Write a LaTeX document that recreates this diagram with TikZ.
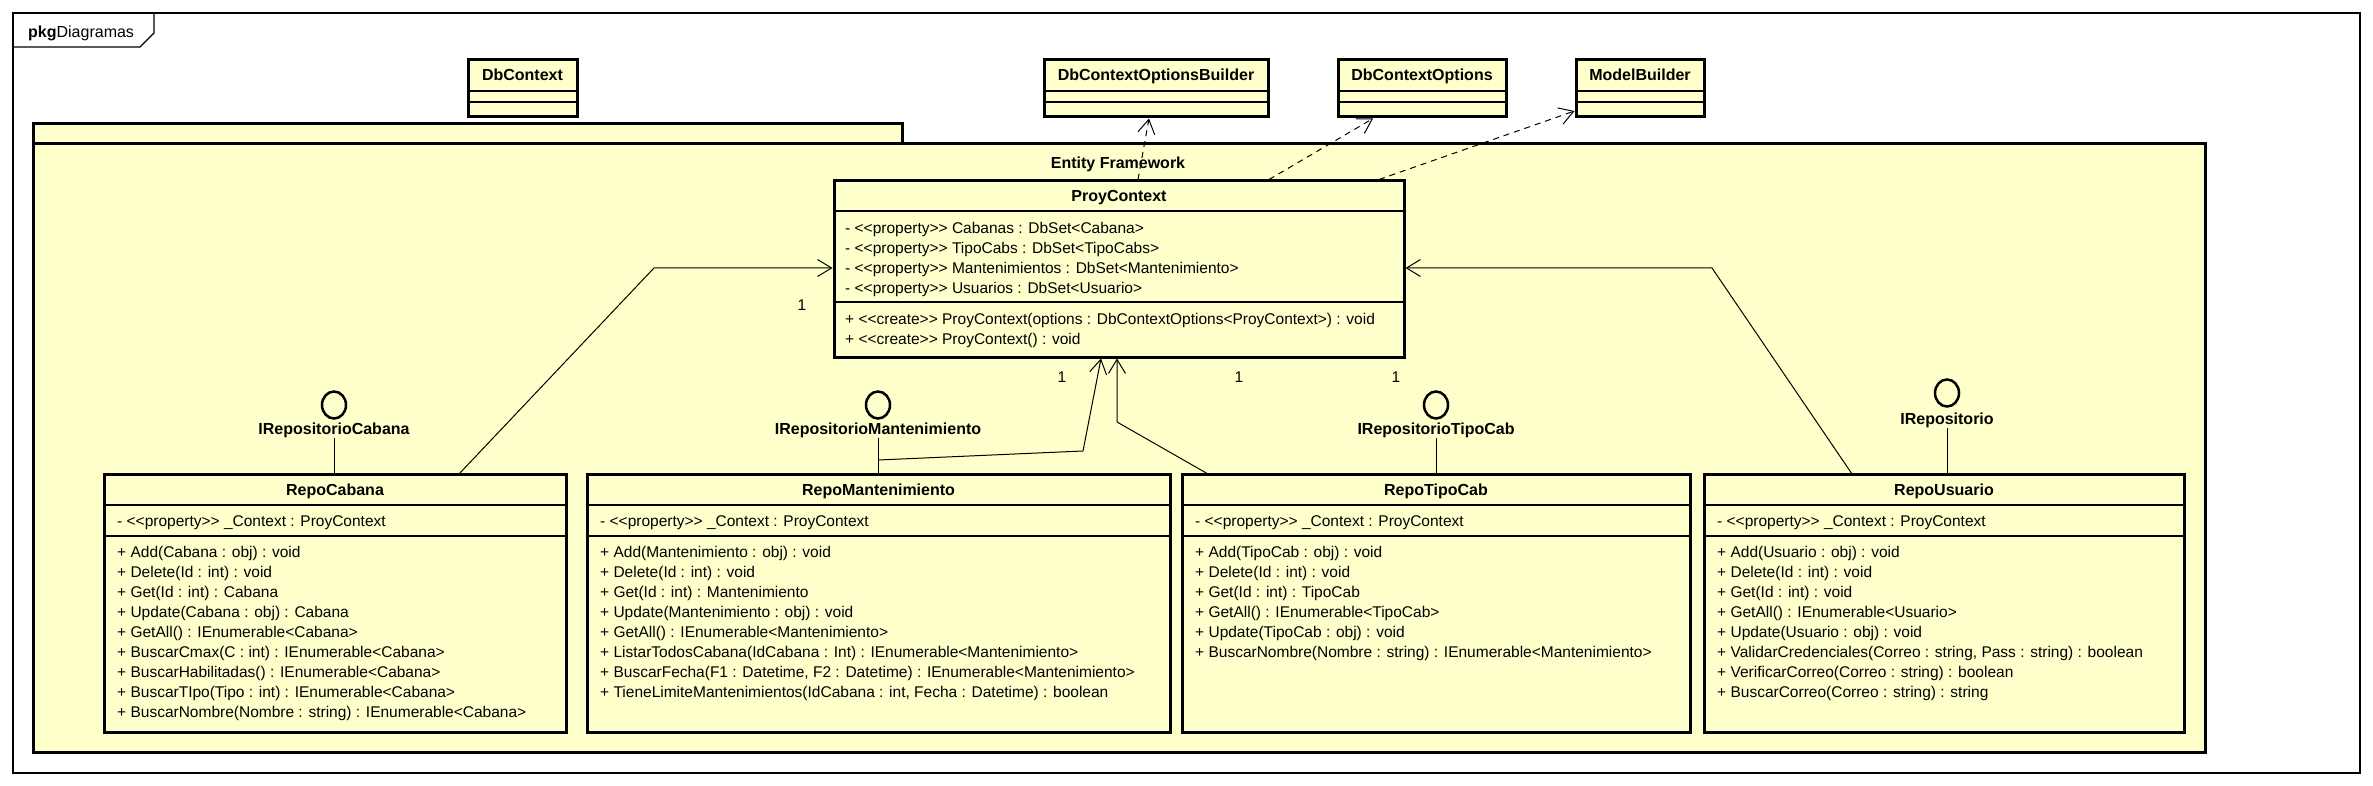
\documentclass[tikz,border=0pt]{standalone}
\usepackage{fontspec}
\setmainfont{Liberation Sans}[Ligatures=TeXOff]
\usetikzlibrary{arrows.meta,fit,calc}
\definecolor{umlfill}{RGB}{255,255,204}
\tikzset{
  clsbox/.style={draw=black, line width=3pt, fill=umlfill, inner sep=0pt},
  pkgbox/.style={draw=black, line width=3pt, fill=umlfill},
  sepline/.style={draw=black, line width=1.3pt},
  txt/.style={inner sep=0pt, anchor=base west, font=\fontsize{15.5}{20}\selectfont},
  ttl/.style={inner sep=0pt, anchor=base, font=\fontsize{16}{20}\selectfont\bfseries},
  mult/.style={inner sep=0pt, anchor=base, font=\fontsize{15.5}{20}\selectfont},
  assoc/.style={draw=black, line width=1pt, -{Straight Barb[length=14pt,width=17pt,line width=1pt]}},
  dep/.style={assoc, dash pattern=on 6pt off 5pt},
  plainline/.style={draw=black, line width=1pt},
  iface/.style={draw=black, line width=2.5pt, ellipse, minimum width=24pt, minimum height=27pt, inner sep=0pt, fill=umlfill},
}
\usetikzlibrary{shapes.geometric}
\newcommand{\umlclass}[8]{%
  \coordinate (#1-a) at (#2,#3);
  \coordinate (#1-b) at (#4,#5);
  \node[clsbox, fit=(#1-a)(#1-b)] (#1) {};
  \draw[sepline] (#2,#6) -- (#4,#6);
  \draw[sepline] (#2,#7) -- (#4,#7);
  \node[ttl] (#1-title) at ({(#2+#4)/2}, {(#3+#6)/2+5.5}) {#8};
}
\newcommand{\umlrows}[4]{%
  \foreach \rowtext [count=\i from 0] in {#4} {\node[txt] (#1-\i) at (#2, {#3+20*\i+5.5}) {\rowtext};}
}
\begin{document}
\begin{tikzpicture}[x=1pt,y=-1pt]
\useasboundingbox (0,0) rectangle (2373,786);
\fill[white] (0,0) rectangle (2373,786);
% outer frame
\draw[line width=1.3pt] (13,13) rectangle (2360,773);
\draw[line width=1.3pt] (13,47) -- (140,47) -- (154,33) -- (154,13);
\node[txt, font=\fontsize{16}{20}\selectfont] (frametitle) at (28,38) {\textbf{pkg}Diagramas};
% top classes
\umlclass{dbc}{468}{60}{577}{117}{91}{102}{DbContext}
\umlclass{dbcob}{1044}{60}{1268}{117}{91}{102}{DbContextOptionsBuilder}
\umlclass{dbco}{1338}{60}{1506}{117}{91}{102}{DbContextOptions}
\umlclass{mb}{1576}{60}{1704}{117}{91}{102}{ModelBuilder}
% package
\draw[pkgbox] (33,124) rectangle (902,144);
\draw[pkgbox] (33,144) rectangle (2205,752);
\node[ttl] (pkgname) at (1118,169) {Entity Framework};
% ProyContext
\umlclass{pc}{834}{181}{1404}{357}{211}{302}{ProyContext}
\umlrows{pca}{845}{228}{{- <<property>> Cabanas : DbSet<Cabana>},{- <<property>> TipoCabs : DbSet<TipoCabs>},{- <<property>> Mantenimientos : DbSet<Mantenimiento>},{- <<property>> Usuarios : DbSet<Usuario>}}
\umlrows{pco}{845}{319}{{+ <<create>> ProyContext(options : DbContextOptions<ProyContext>) : void},{+ <<create>> ProyContext() : void}}
% Repo classes
\umlclass{rc}{104}{474}{566}{732}{505}{536}{RepoCabana}
\umlrows{rca}{117}{521}{{- <<property>> \_Context : ProyContext}}
\umlrows{rco}{117}{551.5}{{+ Add(Cabana : obj) : void},{+ Delete(Id : int) : void},{+ Get(Id : int) : Cabana},{+ Update(Cabana : obj) : Cabana},{+ GetAll() : IEnumerable<Cabana>},{+ BuscarCmax(C : int) : IEnumerable<Cabana>},{+ BuscarHabilitadas() : IEnumerable<Cabana>},{+ BuscarTIpo(Tipo : int) : IEnumerable<Cabana>},{+ BuscarNombre(Nombre : string) : IEnumerable<Cabana>}}
\umlclass{rm}{587}{474}{1170}{732}{505}{536}{RepoMantenimiento}
\umlrows{rma}{600}{521}{{- <<property>> \_Context : ProyContext}}
\umlrows{rmo}{600}{551.5}{{+ Add(Mantenimiento : obj) : void},{+ Delete(Id : int) : void},{+ Get(Id : int) : Mantenimiento},{+ Update(Mantenimiento : obj) : void},{+ GetAll() : IEnumerable<Mantenimiento>},{+ ListarTodosCabana(IdCabana : Int) : IEnumerable<Mantenimiento>},{+ BuscarFecha(F1 : Datetime, F2 : Datetime) : IEnumerable<Mantenimiento>},{+ TieneLimiteMantenimientos(IdCabana : int, Fecha : Datetime) : boolean}}
\umlclass{rt}{1182}{474}{1690}{732}{505}{536}{RepoTipoCab}
\umlrows{rta}{1195}{521}{{- <<property>> \_Context : ProyContext}}
\umlrows{rto}{1195}{551.5}{{+ Add(TipoCab : obj) : void},{+ Delete(Id : int) : void},{+ Get(Id : int) : TipoCab},{+ GetAll() : IEnumerable<TipoCab>},{+ Update(TipoCab : obj) : void},{+ BuscarNombre(Nombre : string) : IEnumerable<Mantenimiento>}}
\umlclass{ru}{1704}{474}{2184}{732}{505}{536}{RepoUsuario}
\umlrows{rua}{1717}{521}{{- <<property>> \_Context : ProyContext}}
\umlrows{ruo}{1717}{551.5}{{+ Add(Usuario : obj) : void},{+ Delete(Id : int) : void},{+ Get(Id : int) : void},{+ GetAll() : IEnumerable<Usuario>},{+ Update(Usuario : obj) : void},{+ ValidarCredenciales(Correo : string, Pass : string) : boolean},{+ VerificarCorreo(Correo : string) : boolean},{+ BuscarCorreo(Correo : string) : string}}
% interfaces
\node[iface] (ic1) at (334,405) {};
\node[ttl] (il1) at (334,434.5) {IRepositorioCabana};
\node[iface] (ic2) at (878,405) {};
\node[ttl] (il2) at (878,434.5) {IRepositorioMantenimiento};
\node[iface] (ic3) at (1436,405) {};
\node[ttl] (il3) at (1436,434.5) {IRepositorioTipoCab};
\node[iface] (ic4) at (1947,393) {};
\node[ttl] (il4) at (1947,424.5) {IRepositorio};
\draw[plainline] (il1.south) -- (rc.north -| il1.south);
\draw[plainline] (il2.south) -- (rm.north -| il2.south);
\draw[plainline] (il3.south) -- (rt.north -| il3.south);
\draw[plainline] (il4.south) -- (ru.north -| il4.south);
% associations
\coordinate (rcA) at (459,474);
\coordinate (rmA) at (878,460);
\coordinate (rtA) at (1208,474);
\coordinate (ruA) at (1852,474);
\draw[assoc] (rcA) -- (654,268) -- (pc.west |- 0,268);
\draw[assoc] (rmA) -- (1083,451) -- (pc.south -| 1101,0);
\draw[assoc] (rtA) -- (1117,422) -- (pc.south -| 1117,0);
\draw[assoc] (ruA) -- (1712,268) -- (pc.east |- 0,268);
\node[mult] (m1) at (802,310) {1};
\node[mult] (m2) at (1062,382) {1};
\node[mult] (m3) at (1239,382) {1};
\node[mult] (m4) at (1396,382) {1};
% dependencies
\draw[dep] (pc.north -| 1138,0) -- (dbcob.south -| 1149,0);
\draw[dep] (pc.north -| 1269,0) -- (dbco.south -| 1373,0);
\draw[dep] (pc.north -| 1379,0) -- (mb.west |- 0,111);
\end{tikzpicture}
\end{document}
